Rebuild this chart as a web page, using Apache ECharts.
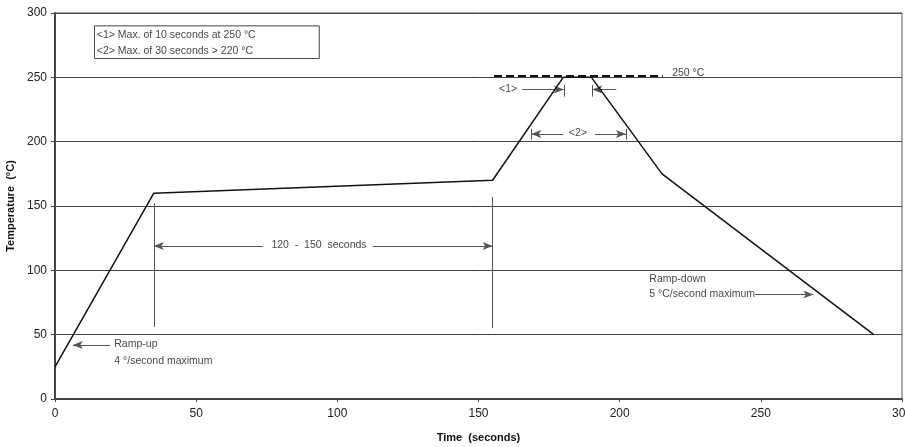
<!DOCTYPE html>
<html>
<head>
<meta charset="utf-8">
<script src="https://cdn.jsdelivr.net/npm/echarts@6/dist/echarts.min.js"></script>
<style>
html,body{margin:0;padding:0;background:#fff;}
#c{width:905px;height:447px;}
</style>
</head>
<body>
<div id="c"></div>
<script>
// Reflow profile data
const profileTime = [0, 35, 155, 180, 190, 215, 290];
const profileTemp = [25, 160, 170, 250, 250, 175, 50];
const xTicks = [0, 50, 100, 150, 200, 250, 300];
const yTicks = [0, 50, 100, 150, 200, 250, 300];
const peakLimit = 250;
const legendLines = ['<1> Max. of 10 seconds at 250 °C', '<2> Max. of 30 seconds > 220 °C'];
const noteTexts = ['120  -  150  seconds', '<1>', '<2>', '250 °C', 'Ramp-up', '4 °/second maximum', 'Ramp-down', '5 °C/second maximum'];

const FONT = '"Liberation Sans Narrow", "Arial Narrow", "Liberation Sans", sans-serif';
const chart = echarts.init(document.getElementById('c'), null, {renderer: 'canvas'});

function arrow(x1, y1, x2, y2) {
  return [{coord: [x1, y1]}, {coord: [x2, y2]}];
}
function seg(x1, y1, x2, y2) {
  return [{coord: [x1, y1], symbol: 'none'}, {coord: [x2, y2], symbol: 'none'}];
}
function txt(x, y, t, pos) {
  return {value: [x, y], label: {show: true, formatter: t, position: pos || 'right', distance: 0}};
}

const option = {
  animation: false,
  backgroundColor: '#fff',
  textStyle: {fontFamily: FONT},
  grid: {left: 55, right: 3, top: 13, bottom: 48, show: true, borderColor: '#555', borderWidth: 1,
    backgroundColor: 'transparent', containLabel: false, outerBoundsMode: 'none'},
  xAxis: {
    type: 'value', min: 0, max: 300, interval: 50,
    name: 'Time  (seconds)', nameLocation: 'middle', nameGap: 33,
    nameTextStyle: {fontFamily: FONT, fontWeight: 'bold', fontSize: 11, color: '#111'},
    axisLine: {show: true, lineStyle: {color: '#444', width: 2}},
    axisTick: {show: true, length: 3, lineStyle: {color: '#444'}},
    axisLabel: {fontFamily: FONT, fontSize: 12, color: '#222', margin: 9,
      formatter: v => xTicks.includes(v) ? String(v) : ''},
    splitLine: {show: false}
  },
  yAxis: {
    type: 'value', min: 0, max: 300, interval: 50,
    name: 'Temperature  (°C)', nameLocation: 'middle', nameGap: 38, nameRotate: 90,
    nameTextStyle: {fontFamily: FONT, fontWeight: 'bold', fontSize: 11, color: '#111'},
    axisLine: {show: true, lineStyle: {color: '#444', width: 2}},
    axisTick: {show: true, length: 4, lineStyle: {color: '#444'}},
    axisLabel: {fontFamily: FONT, fontSize: 12, color: '#222', margin: 8,
      formatter: v => yTicks.includes(v) ? String(v) : ''},
    splitLine: {show: true, lineStyle: {color: '#444', width: 1}}
  },
  series: [
    {
      type: 'line',
      data: profileTime.map((t, i) => [t, profileTemp[i]]),
      symbol: 'none',
      lineStyle: {color: '#111', width: 1.5},
      z: 5,
      markLine: {
        silent: true,
        symbol: 'none',
        label: {show: false},
        lineStyle: {color: '#111', type: [8, 4], width: 2},
        data: [seg(155.5, peakLimit + 1.5, 215.3, peakLimit + 1.5)]
      },
      markArea: {
        silent: true,
        itemStyle: {color: 'rgba(0,0,0,0)', borderColor: '#444', borderWidth: 1},
        data: [[{coord: [14, 290]}, {coord: [93.6, 264.6]}]]
      }
    },
    {
      // dimension lines and arrows
      type: 'line', data: [], symbol: 'none',
      markLine: {
        silent: true,
        symbol: ['none', 'arrow'],
        symbolSize: [6, 10],
        label: {show: false},
        itemStyle: {color: '#222'},
        lineStyle: {color: '#555', type: 'solid', width: 1},
        data: [
          seg(35, 56, 35, 152),
          seg(155, 55, 155, 157),
          arrow(73.6, 119, 35, 119),
          arrow(112.6, 119, 155, 119),
          seg(180.2, 235, 180.2, 244),
          seg(190.3, 235, 190.3, 244),
          arrow(165.5, 240.5, 180.2, 240.5),
          arrow(198.8, 240.5, 190.3, 240.5),
          seg(168.7, 201.5, 168.7, 210),
          seg(202.2, 201.5, 202.2, 210),
          arrow(180, 206, 168.7, 206),
          arrow(191.3, 206, 202.2, 206),
          arrow(19.5, 42, 6.3, 42),
          arrow(248, 81.3, 268.6, 81.3)
        ]
      }
    },
    {
      type: 'scatter', symbolSize: 0, silent: true,
      label: {show: true, fontFamily: FONT, fontSize: 10.5, color: '#111'},
      data: [
        txt(14.8, 283, legendLines[0]),
        txt(14.8, 270.6, legendLines[1]),
        txt(93.5, 119.5, noteTexts[0], 'inside'),
        txt(160.5, 240.6, noteTexts[1], 'inside'),
        txt(185.2, 206.3, noteTexts[2], 'inside'),
        txt(218.6, 253.6, noteTexts[3]),
        txt(21, 42.5, noteTexts[4]),
        txt(21, 29.5, noteTexts[5]),
        txt(210.5, 93, noteTexts[6]),
        txt(210.5, 81.5, noteTexts[7])
      ]
    }
  ]
};
chart.setOption(option);
</script>
</body>
</html>
